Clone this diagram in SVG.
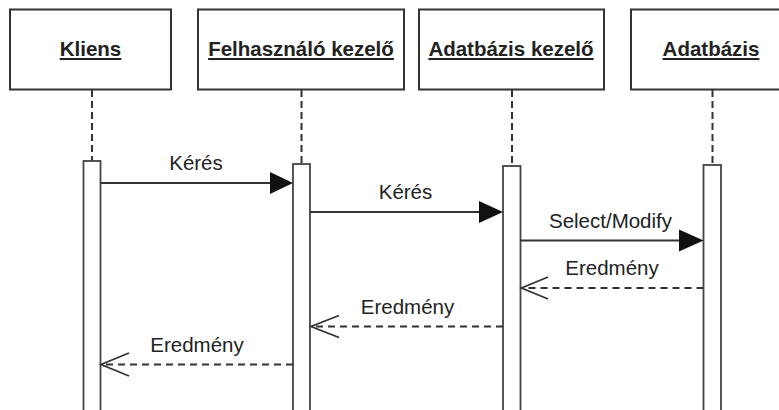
<svg xmlns="http://www.w3.org/2000/svg" width="779" height="410" viewBox="0 0 779 410">
  <style>
    .box { fill: #fff; stroke: #333; stroke-width: 2; }
    .act { fill: #fff; stroke: #444; stroke-width: 1.8; }
    .life { stroke: #333; stroke-width: 2; stroke-dasharray: 7 4; fill: none; }
    .title { font-family: "Liberation Sans", Arial, sans-serif; font-size: 20.5px; font-weight: bold; fill: #222; text-anchor: middle; text-decoration: underline; }
    .lbl { font-family: "Liberation Sans", Arial, sans-serif; font-size: 20.5px; fill: #222; text-anchor: middle; }
    .msg { stroke: #333; stroke-width: 2; fill: none; }
    .ret { stroke: #333; stroke-width: 1.8; stroke-dasharray: 7 5; fill: none; }
    .head { fill: #111; stroke: none; }
    .open { stroke: #333; stroke-width: 1.8; fill: none; }
  </style>
  <rect width="779" height="410" fill="#fff"/>

  <g id="kliens">
    <rect class="box" x="10" y="9.5" width="161" height="80"/>
    <text class="title" x="90.5" y="56">Kliens</text>
    <line class="life" x1="92" y1="90" x2="92" y2="161"/>
    <rect class="act" x="83.5" y="161" width="17" height="260"/>
  </g>

  <g id="felhasznalo-kezelo">
    <rect class="box" x="198" y="9.5" width="206" height="80"/>
    <text class="title" x="301" y="56">Felhasználó kezelő</text>
    <line class="life" x1="301.5" y1="90" x2="301.5" y2="164"/>
    <rect class="act" x="293" y="164" width="17" height="260"/>
  </g>

  <g id="adatbazis-kezelo">
    <rect class="box" x="419" y="9.5" width="185" height="80"/>
    <text class="title" x="511" y="56">Adatbázis kezelő</text>
    <line class="life" x1="512" y1="90" x2="512" y2="166"/>
    <rect class="act" x="503" y="166" width="17.5" height="260"/>
  </g>

  <g id="adatbazis">
    <rect class="box" x="631" y="9.5" width="170" height="80"/>
    <text class="title" x="711" y="56">Adatbázis</text>
    <line class="life" x1="712.5" y1="90" x2="712.5" y2="165"/>
    <rect class="act" x="703.5" y="165" width="17.5" height="260"/>
  </g>

  <g id="connectors">
    <line class="msg" x1="101" y1="183" x2="272" y2="183"/>
    <polygon class="head" points="270,172 293,183 270,194"/>
    <text class="lbl" x="196" y="170">Kérés</text>

    <line class="msg" x1="310" y1="212" x2="481" y2="212"/>
    <polygon class="head" points="479,201 503,212 479,223"/>
    <text class="lbl" x="405.5" y="198.5">Kérés</text>

    <line class="msg" x1="520.5" y1="240.5" x2="681" y2="240.5"/>
    <polygon class="head" points="679,229.5 703.5,240.5 679,251.5"/>
    <text class="lbl" x="610.5" y="227.5">Select/Modify</text>

    <line class="ret" x1="703.5" y1="288" x2="522" y2="288"/>
    <polyline class="open" points="548,277 521.5,288 548,299"/>
    <text class="lbl" x="612" y="275">Eredmény</text>

    <line class="ret" x1="503" y1="326.5" x2="312" y2="326.5"/>
    <polyline class="open" points="339,315.5 311,326.5 339,337.5"/>
    <text class="lbl" x="407.5" y="313.5">Eredmény</text>

    <line class="ret" x1="293" y1="364.5" x2="102" y2="364.5"/>
    <polyline class="open" points="129,353 101,364.5 129,376"/>
    <text class="lbl" x="197" y="351.5">Eredmény</text>
  </g>
</svg>
